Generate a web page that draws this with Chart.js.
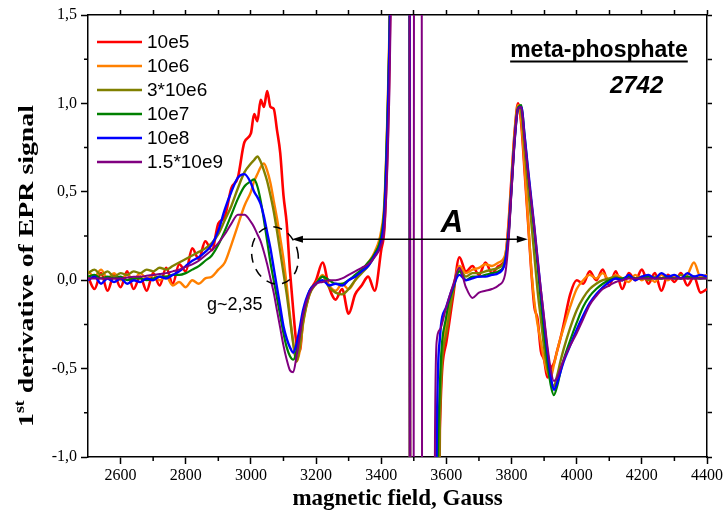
<!DOCTYPE html>
<html>
<head>
<meta charset="utf-8">
<title>EPR spectra, meta-phosphate 2742</title>
<script src="https://cdn.jsdelivr.net/npm/chart.js@4.4.1/dist/chart.umd.min.js"></script>
<style>
  html, body { margin: 0; padding: 0; background: #fff; }
  #wrap { width: 727px; height: 516px; }
</style>
</head>
<body>
<div id="wrap"><canvas id="chart" width="727" height="516"></canvas></div>
<script>
// magnetic field (Gauss) sample positions shared by all spectra
const field = [
  2500, 2520, 2540, 2560, 2580, 2600, 2620, 2640, 2660, 2680, 2700, 2720, 2740, 2760, 2780, 2800,
  2820, 2840, 2860, 2880, 2900, 2920, 2940, 2960, 2980, 3000,
  3010, 3020, 3030, 3040, 3050, 3060, 3070, 3080, 3090, 3100, 3110, 3120, 3130, 3140, 3150, 3160,
  3180, 3200, 3220, 3240, 3260, 3280, 3300, 3320, 3340, 3360, 3380, 3400,
  3410, 3420, 3425, 3430, 3440,
  3487, 3489, 3499, 3501, 3524, 3526, 3560, 3565, 3570,
  3580, 3600, 3620, 3640, 3660, 3680, 3700, 3720, 3740, 3760, 3780,
  3790, 3800, 3810, 3820, 3830, 3840, 3850, 3860, 3870, 3880, 3890, 3900, 3910, 3920, 3930, 3940, 3950, 3960,
  3980, 4000, 4020, 4040, 4060, 4080, 4100, 4120, 4140, 4160, 4180, 4200, 4220, 4240, 4260, 4280, 4300, 4320, 4340, 4360, 4380, 4400
];

const seriesLabels = ['10e5', '10e6', '3*10e6', '10e7', '10e8', '1.5*10e9'];
const seriesColors = ['#ff0000', '#ff8000', '#808000', '#008000', '#0000ff', '#800080'];
const seriesWidths = [2.6, 2.4, 2.4, 2.2, 2.4, 2];

// values (off-scale parts of the central line given as +-3)
const dose10e5 = [
  0.02, -0.05, 0.04, -0.06, 0.03, -0.04, 0.05, -0.05, 0.02, -0.06, 0.04, -0.03, 0.07, -0.02, 0.09, 0.05,
  0.18, 0.12, 0.22, 0.17, 0.32, 0.36, 0.52, 0.58, 0.78, 0.83,
  0.94, 0.9, 1.02, 0.98, 1.07, 0.98, 0.97, 0.85, 0.72, 0.48, 0.32, 0.05, -0.17, -0.36, -0.4, -0.23,
  -0.07, 0.0, 0.1, -0.04, -0.11, -0.05, -0.19, -0.08, -0.03, 0.02, -0.06, 0.17,
  0.3, 0.8, 1.2, 1.9, 3,
  3, -3, -3, -3, -3, -3, -3, -3, -3,
  -0.85, -0.35, -0.1, 0.13, 0.05, 0.08, 0.03, 0.1, 0.04, 0.08, 0.12,
  0.3, 0.58, 0.85, 1.0, 0.88, 0.62, 0.35, 0.07, -0.15, -0.22, -0.4, -0.45, -0.55, -0.5, -0.47, -0.4, -0.33, -0.25,
  -0.08, 0.0, -0.02, 0.05, 0.0, 0.06, -0.03, 0.05, -0.05, 0.04, 0.0, 0.06, -0.02, 0.04, -0.06, 0.03, -0.01, 0.04, -0.03, 0.02, -0.07, -0.05
];
const dose10e6 = [
  0.05, 0.02, 0.06, 0.01, 0.04, 0.0, 0.03, 0.0, 0.04, 0.01, 0.03, 0.0, 0.02, -0.03, -0.01, -0.04,
  0.0, -0.02, 0.01, 0.02, 0.06, 0.1, 0.2, 0.31, 0.42, 0.5,
  0.56, 0.6, 0.64, 0.66, 0.62, 0.55, 0.45, 0.35, 0.24, 0.12, -0.03, -0.2, -0.35, -0.46, -0.4, -0.25,
  -0.08, -0.02, 0.03, -0.03, -0.06, -0.02, -0.05, 0.0, 0.05, 0.1, 0.16, 0.28,
  0.45, 1.0, 1.4, 2.1, 3,
  3, -3, -3, -3, -3, -3, -3, -3, -1.8,
  -0.7, -0.25, -0.05, 0.08, 0.04, 0.06, 0.07, 0.09, 0.08, 0.1, 0.14,
  0.28, 0.56, 0.84, 0.99, 0.9, 0.64, 0.36, 0.08, -0.12, -0.25, -0.35, -0.45, -0.52, -0.55, -0.48, -0.4, -0.33, -0.27,
  -0.15, -0.05, 0.0, 0.03, 0.01, 0.04, 0.0, 0.03, 0.01, -0.01, 0.03, 0.0, 0.02, -0.01, 0.03, 0.0, 0.02, 0.01, 0.03, 0.1, 0.02, 0.03
];
const dose3x10e6 = [
  0.04, 0.06, 0.03, 0.05, 0.02, 0.04, 0.03, 0.05, 0.04, 0.06, 0.05, 0.07, 0.06, 0.08, 0.1, 0.12,
  0.14, 0.16, 0.18, 0.21, 0.26, 0.34, 0.42, 0.52, 0.61, 0.66,
  0.68, 0.7, 0.67, 0.62, 0.56, 0.48, 0.39, 0.28, 0.16, 0.04, -0.08, -0.22, -0.36, -0.46, -0.38, -0.24,
  -0.08, -0.02, 0.02, -0.04, -0.07, -0.08, -0.05, 0.0, 0.04, 0.08, 0.14, 0.25,
  0.42, 0.97, 1.35, 2.0, 3,
  3, -3, -3, -3, -3, -3, -3, -3, -3,
  -0.8, -0.3, -0.07, 0.06, 0.02, 0.04, 0.04, 0.05, 0.06, 0.07, 0.12,
  0.25, 0.54, 0.82, 0.98, 0.95, 0.74, 0.54, 0.34, 0.14, -0.06, -0.22, -0.38, -0.5, -0.57, -0.6, -0.54, -0.46, -0.39,
  -0.27, -0.17, -0.1, -0.05, -0.02, 0.0, 0.01, 0.02, 0.0, 0.02, 0.01, 0.02, 0.0, 0.02, 0.01, 0.02, 0.01, 0.03, 0.01, 0.02, 0.01, 0.02
];
const dose10e7 = [
  0.02, 0.03, 0.01, 0.02, 0.01, 0.02, 0.0, 0.01, 0.01, 0.0, 0.01, 0.02, 0.02, 0.03, 0.03, 0.04,
  0.06, 0.08, 0.11, 0.14, 0.2, 0.28, 0.37, 0.46, 0.53, 0.56,
  0.57, 0.53, 0.45, 0.34, 0.22, 0.1, 0.0, -0.1, -0.2, -0.3, -0.38, -0.43, -0.45, -0.4, -0.3, -0.2,
  -0.06, -0.02, 0.02, 0.0, -0.02, -0.02, 0.0, 0.03, 0.06, 0.1, 0.15, 0.25,
  0.42, 0.97, 1.35, 2.0, 3,
  3, -3, -3, -3, -3, -3, -3, -3, -1.5,
  -0.6, -0.2, -0.05, 0.05, 0.0, 0.02, 0.02, 0.03, 0.04, 0.05, 0.1,
  0.24, 0.52, 0.8, 0.97, 0.99, 0.82, 0.63, 0.45, 0.27, 0.08, -0.12, -0.3, -0.46, -0.59, -0.65, -0.6, -0.52, -0.45,
  -0.34, -0.24, -0.15, -0.09, -0.05, -0.02, 0.0, 0.01, 0.01, 0.02, 0.01, 0.01, 0.02, 0.01, 0.01, 0.02, 0.01, 0.01, 0.02, 0.01, 0.01, 0.01
];
const dose10e8 = [
  0.0, 0.02, -0.02, 0.01, -0.01, 0.01, -0.02, 0.0, -0.01, 0.01, 0.0, 0.02, 0.01, 0.03, 0.05, 0.08,
  0.11, 0.13, 0.16, 0.2, 0.28, 0.4, 0.5, 0.58, 0.6, 0.55,
  0.5, 0.47, 0.43, 0.36, 0.27, 0.18, 0.07, -0.04, -0.15, -0.26, -0.33, -0.38, -0.41, -0.36, -0.27, -0.17,
  -0.06, -0.02, 0.0, -0.03, -0.02, -0.03, 0.0, 0.02, 0.05, 0.08, 0.14, 0.22,
  0.38, 0.9, 1.3, 1.9, 3,
  3, -3, -3, -3, -3, -3, -3, -3, -1.0,
  -0.33, -0.15, -0.04, 0.03, 0.0, 0.01, 0.02, 0.02, 0.03, 0.04, 0.1,
  0.24, 0.52, 0.8, 0.97, 0.98, 0.82, 0.64, 0.47, 0.3, 0.12, -0.06, -0.23, -0.4, -0.54, -0.62, -0.58, -0.52, -0.46,
  -0.37, -0.28, -0.2, -0.13, -0.08, -0.04, -0.01, 0.01, 0.0, 0.03, 0.0, 0.02, 0.03, 0.01, 0.04, 0.02, 0.03, 0.01, 0.04, 0.02, 0.03, 0.02
];
const dose15x10e9 = [
  0.01, 0.01, 0.01, 0.01, 0.01, 0.01, 0.015, 0.02, 0.02, 0.025, 0.03, 0.035, 0.04, 0.05, 0.06, 0.075,
  0.09, 0.11, 0.14, 0.17, 0.21, 0.26, 0.32, 0.37, 0.37, 0.33,
  0.3, 0.26, 0.22, 0.16, 0.09, 0.01, -0.07, -0.17, -0.27, -0.37, -0.45, -0.51, -0.52, -0.43, -0.32, -0.2,
  -0.07, -0.02, -0.01, 0.0, 0.0, 0.01, 0.03, 0.05, 0.07, 0.09, 0.13, 0.2,
  0.3, 0.7, 1.05, 1.6, 3,
  3, -3, -3, 3, 3, -3, -3, -0.9, -0.35,
  -0.28, -0.15, -0.03, 0.07, -0.04, -0.1, -0.07, -0.06, -0.05, -0.03, 0.03,
  0.2, 0.5, 0.8, 0.97, 0.98, 0.8, 0.62, 0.46, 0.3, 0.12, -0.05, -0.21, -0.37, -0.5, -0.57, -0.55, -0.5, -0.45,
  -0.37, -0.3, -0.22, -0.14, -0.09, -0.05, -0.03, -0.01, 0.0, 0.01, 0.01, 0.01, 0.01, 0.01, 0.01, 0.01, 0.01, 0.01, 0.01, 0.01, 0.01, 0.01
];
const seriesValues = [dose10e5, dose10e6, dose3x10e6, dose10e7, dose10e8, dose15x10e9];

// axis ticks
const xTicks = [2600, 2800, 3000, 3200, 3400, 3600, 3800, 4000, 4200, 4400];
const xMinor = [2700, 2900, 3100, 3300, 3500, 3700, 3900, 4100, 4300];
const yTicks = [-1.0, -0.5, 0.0, 0.5, 1.0, 1.5];
const yMinor = [-0.75, -0.25, 0.25, 0.75, 1.25];

const serif = "'Liberation Serif', 'Times New Roman', serif";
const sans = "'Liberation Sans', Arial, sans-serif";

// small outward minor ticks on the bottom and left axes
const minorTicks = {
  id: 'minorTicks',
  afterDraw(chart) {
    const { ctx } = chart;
    const x = chart.scales.x, y = chart.scales.y;
    ctx.save();
    ctx.strokeStyle = '#000';
    ctx.lineWidth = 1.5;
    ctx.beginPath();
    xMinor.forEach(v => {
      const px = x.getPixelForValue(v);
      ctx.moveTo(px, x.top);
      ctx.lineTo(px, x.top + 4);
    });
    yMinor.forEach(v => {
      const py = y.getPixelForValue(v);
      ctx.moveTo(y.right - 4, py);
      ctx.lineTo(y.right, py);
    });
    ctx.stroke();
    ctx.restore();
  }
};

// arrow "A", dashed ellipse, g-value and sample name
const notes = {
  id: 'notes',
  afterDatasetsDraw(chart) {
    const { ctx } = chart;
    const x = chart.scales.x, y = chart.scales.y;
    ctx.save();
    ctx.strokeStyle = '#000';
    ctx.fillStyle = '#000';

    // double arrow between the two features
    const ax0 = x.getPixelForValue(3126), ax1 = x.getPixelForValue(3850), ay = y.getPixelForValue(0.232);
    ctx.lineWidth = 1.5;
    ctx.beginPath();
    ctx.moveTo(ax0 + 6, ay);
    ctx.lineTo(ax1 - 6, ay);
    ctx.stroke();
    ctx.beginPath();
    ctx.moveTo(ax0, ay); ctx.lineTo(ax0 + 11, ay - 3.5); ctx.lineTo(ax0 + 11, ay + 3.5); ctx.closePath();
    ctx.moveTo(ax1, ay); ctx.lineTo(ax1 - 11, ay - 3.5); ctx.lineTo(ax1 - 11, ay + 3.5); ctx.closePath();
    ctx.fill();

    ctx.font = "italic bold 31px " + sans;
    ctx.textAlign = 'center';
    ctx.textBaseline = 'alphabetic';
    ctx.fillText('A', x.getPixelForValue(3617), y.getPixelForValue(0.27));

    // dashed ellipse around the g~2,35 feature
    ctx.lineWidth = 1.5;
    ctx.setLineDash([9, 7]);
    ctx.beginPath();
    ctx.ellipse(x.getPixelForValue(3074), y.getPixelForValue(0.14), 23, 29, -0.25, 0, Math.PI * 2);
    ctx.stroke();
    ctx.setLineDash([]);

    ctx.font = "18px " + sans;
    ctx.textAlign = 'left';
    ctx.fillText('g~2,35', x.getPixelForValue(2865), y.getPixelForValue(-0.17));

    // sample name, underlined
    ctx.font = "bold 23px " + sans;
    ctx.textAlign = 'right';
    const nx = x.getPixelForValue(4341), ny = y.getPixelForValue(1.26);
    ctx.fillText('meta-phosphate', nx, ny);
    const nw = ctx.measureText('meta-phosphate').width;
    ctx.lineWidth = 2;
    ctx.beginPath();
    ctx.moveTo(nx - nw, ny + 4);
    ctx.lineTo(nx, ny + 4);
    ctx.stroke();

    ctx.font = "italic bold 24px " + sans;
    ctx.textAlign = 'left';
    ctx.fillText('2742', x.getPixelForValue(4102), y.getPixelForValue(1.06));
    ctx.restore();
  }
};

// legend inside the plot, top left
const legendBox = {
  id: 'legendBox',
  afterDraw(chart) {
    const { ctx, chartArea } = chart;
    ctx.save();
    ctx.font = "19px " + sans;
    ctx.textBaseline = 'middle';
    ctx.textAlign = 'left';
    chart.data.datasets.forEach((ds, i) => {
      const ly = chartArea.top + 27 + i * 24;
      ctx.strokeStyle = ds.borderColor;
      ctx.lineWidth = 2.5;
      ctx.beginPath();
      ctx.moveTo(chartArea.left + 9, ly);
      ctx.lineTo(chartArea.left + 54, ly);
      ctx.stroke();
      ctx.fillStyle = '#000';
      ctx.fillText(ds.label, chartArea.left + 59, ly + 1);
    });
    ctx.restore();
  }
};

// y title with superscript "st", stretched along its length like the original
const yTitle = {
  id: 'yTitle',
  afterDraw(chart) {
    const { ctx } = chart;
    const big = "bold 22px " + serif, small = "bold 14px " + serif;
    const rest = ' derivative of EPR signal';
    ctx.save();
    ctx.fillStyle = '#000';
    ctx.textBaseline = 'alphabetic';
    ctx.font = big;
    const w1 = ctx.measureText('1').width, w3 = ctx.measureText(rest).width;
    ctx.font = small;
    const w2 = ctx.measureText('st').width;
    const total = w1 + w2 + w3;
    ctx.translate(26, 266);
    ctx.rotate(-Math.PI / 2);
    ctx.scale(322 / total, 1);
    let tx = -total / 2;
    ctx.font = big;
    ctx.fillText('1', tx, 7);
    tx += w1;
    ctx.font = small;
    ctx.fillText('st', tx, -2);
    tx += w2;
    ctx.font = big;
    ctx.fillText(rest, tx, 7);
    ctx.restore();
  }
};

const ctx = document.getElementById('chart').getContext('2d');
new Chart(ctx, {
  type: 'line',
  data: {
    datasets: seriesValues.map((vals, i) => ({
      label: seriesLabels[i],
      data: field.map((f, j) => ({ x: f, y: vals[j] })),
      borderColor: seriesColors[i],
      backgroundColor: seriesColors[i],
      borderWidth: seriesWidths[i],
      pointRadius: 0,
      fill: false,
      cubicInterpolationMode: 'monotone',
      order: seriesValues.length - i
    }))
  },
  options: {
    responsive: false,
    animation: false,
    events: [],
    layout: { padding: { top: 15, right: 20, left: 0, bottom: 0 } },
    plugins: { legend: { display: false }, tooltip: { enabled: false } },
    scales: {
      x: {
        type: 'linear',
        position: 'bottom',
        min: 2500,
        max: 4400,
        afterBuildTicks: axis => { axis.ticks = xTicks.map(v => ({ value: v })); },
        afterFit: axis => { axis.height = 59; },
        ticks: { color: '#000', font: { family: serif, size: 16 }, padding: 2, maxRotation: 0, autoSkip: false, callback: v => String(v) },
        grid: { drawOnChartArea: false, tickLength: 7, tickWidth: 1.5, tickColor: '#000' },
        border: { color: '#000', width: 1.5 },
        title: { display: true, text: 'magnetic field, Gauss', color: '#000', font: { family: serif, size: 23, weight: 'bold' }, padding: { top: 0, bottom: 3 } }
      },
      y: {
        type: 'linear',
        position: 'left',
        min: -1,
        max: 1.5,
        afterBuildTicks: axis => { axis.ticks = yTicks.map(v => ({ value: v })); },
        afterFit: axis => { axis.width = 88; },
        ticks: { color: '#000', font: { family: serif, size: 16 }, padding: 4, callback: v => v.toFixed(1).replace('.', ',') },
        grid: { drawOnChartArea: false, tickLength: 7, tickWidth: 1.5, tickColor: '#000' },
        border: { color: '#000', width: 1.5 }
      },
      x2: {
        type: 'linear',
        position: 'top',
        min: 2500,
        max: 4400,
        afterBuildTicks: axis => { axis.ticks = [...xTicks, ...xMinor].sort((a, b) => a - b).map(v => ({ value: v })); },
        afterFit: axis => { axis.height = 0; },
        ticks: { display: false },
        grid: { drawOnChartArea: false, tickLength: 5, tickWidth: 1.5, tickColor: '#000' },
        border: { color: '#000', width: 1.5 }
      },
      y2: {
        type: 'linear',
        position: 'right',
        min: -1,
        max: 1.5,
        afterBuildTicks: axis => { axis.ticks = [...yTicks, ...yMinor].sort((a, b) => a - b).map(v => ({ value: v })); },
        afterFit: axis => { axis.width = 0; },
        ticks: { display: false },
        grid: { drawOnChartArea: false, tickLength: 5, tickWidth: 1.5, tickColor: '#000' },
        border: { color: '#000', width: 1.5 }
      }
    }
  },
  plugins: [minorTicks, notes, legendBox, yTitle]
});
</script>
</body>
</html>
